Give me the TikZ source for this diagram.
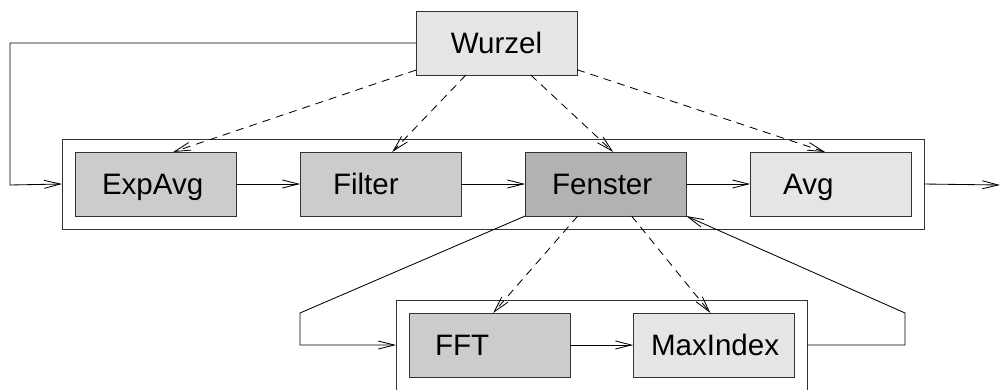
\documentclass[tikz,border=0pt]{standalone}
\usepackage{fontspec}
\setmainfont{Liberation Sans}
\usetikzlibrary{positioning,fit,arrows.meta}

\tikzset{
  block/.style={draw=black!80, line width=0.6pt, fill=#1, outer sep=0pt,
    minimum width=4.025cm, minimum height=1.6cm, align=left,
    text height=0.55cm, text depth=0.05cm,
    font=\fontsize{21}{25}\selectfont},
  pad/.code={\pgfmathsetmacro\padw{4.025-2*#1}%
    \tikzset{inner xsep=#1cm, text width=\padw cm}},
  frame/.style={draw=black!80, line width=0.6pt, inner sep=0.325cm, outer sep=0pt},
  flow/.style={line width=0.6pt, -{Straight Barb[length=0.4cm,width=0.2cm]}},
  ctrl/.style={flow, dash pattern=on 0.2cm off 0.15cm},
}

\begin{document}
\begin{tikzpicture}[x=0.025cm, y=-0.025cm]
  \clip (0,0) rectangle (1002,389);
  % root
  \node[block=black!10, pad=0.3, align=center] (wurzel) at (496.5,43) {Wurzel};
  % main chain
  \node[block=black!20, pad=0.675, anchor=north west] (expavg) at (75,152) {ExpAvg};
  \node[block=black!20, pad=0.825, right=1.6cm of expavg] (filter) {Filter};
  \node[block=black!30, pad=0.675, right=1.6cm of filter] (fenster) {Fenster};
  \node[block=black!10, pad=0.825, right=1.6cm of fenster] (avg) {Avg};
  \node[frame, fit=(expavg)(avg)] (chain) {};
  % sub chain
  \node[block=black!20, pad=0.65, anchor=north west] (fft) at (409,313) {FFT};
  \node[block=black!10, pad=0.45, right=1.575cm of fft] (maxindex) {MaxIndex};
  \node[frame, fit=(fft)(maxindex)] (sub) {};
  % free ends
  \coordinate (feed) at (10,185);
  \coordinate (out) at (1000,185);
  \coordinate (split) at (300,313);
  \coordinate (back) at (905,313);
  % data flow
  \draw[flow] (wurzel.west) -| (feed) -- (chain.west);
  \draw[flow] (expavg) -- (filter);
  \draw[flow] (filter) -- (fenster);
  \draw[flow] (fenster) -- (avg);
  \draw[flow] (chain.east) -- (out);
  \draw[flow] (fft) -- (maxindex);
  \draw[flow] (fenster.south west) -- (split) |- (sub.west);
  \draw[flow] (sub.east) -| (back) -- (fenster.south east);
  % control
  \draw[ctrl] (wurzel) -- ([xshift=0.44cm]expavg.north);
  \draw[ctrl] (wurzel) -- ([xshift=0.29cm]filter.north);
  \draw[ctrl] (wurzel) -- ([xshift=0.19cm]fenster.north);
  \draw[ctrl] (wurzel) -- ([xshift=-0.14cm]avg.north);
  \draw[ctrl] (fenster) -- ([xshift=0.09cm]fft.north);
  \draw[ctrl] (fenster) -- ([xshift=-0.08cm]maxindex.north);
\end{tikzpicture}
\end{document}
